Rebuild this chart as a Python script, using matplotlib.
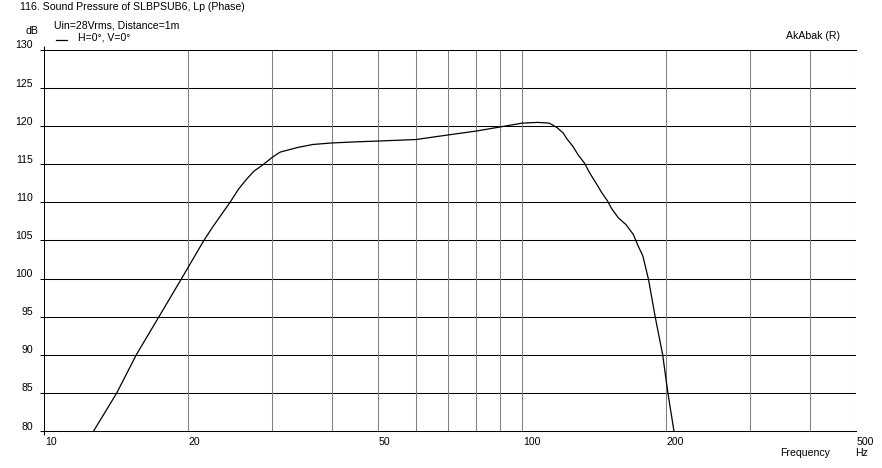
import matplotlib
matplotlib.use("Agg")
import matplotlib.pyplot as plt
from matplotlib.transforms import offset_copy
from matplotlib.lines import Line2D

# ---- data ----
freq_hz = [12.7, 14.2, 15.6, 17.4, 19.4, 21.6, 22.5, 23.5, 24.5, 25.5, 26.5, 27.5,
           28.8, 30.0, 31.2, 33.9, 36.5, 40.0, 45.0, 50.0, 60.0, 70.0, 80.0, 90.0,
           100.0, 108.0, 114.0, 116.0, 118.5, 122.0, 124.0, 128.0, 131.2, 135.0,
           138.8, 144.0, 146.8, 151.0, 154.0, 159.0, 165.0, 171.0, 175.0, 179.0,
           184.0, 190.0, 197.0, 202.0, 208.0]
spl_db = [80.0, 85.0, 90.0, 95.0, 100.0, 105.0, 106.7, 108.4, 110.0, 111.7, 113.0, 114.1,
          115.0, 115.9, 116.6, 117.2, 117.6, 117.8, 117.95, 118.05, 118.25, 118.85, 119.35, 119.9,
          120.4, 120.5, 120.4, 120.15, 119.8, 119.1, 118.4, 117.3, 116.2, 115.2,
          113.8, 112.2, 111.3, 110.2, 109.2, 108.0, 107.1, 105.8, 104.3, 103.0,
          99.9, 95.0, 90.0, 85.0, 80.0]

y_ticks = [80, 85, 90, 95, 100, 105, 110, 115, 120, 125, 130]
x_labels = [10, 20, 50, 100, 200, 500]
x_grid = [20, 30, 40, 50, 60, 70, 80, 90, 100, 200, 300, 400, 500]

title = "116. Sound Pressure of SLBPSUB6, Lp (Phase)"
subtitle = "Uin=28Vrms, Distance=1m"
legend_label = "H=0°, V=0°"
brand = "AkAbak (R)"

W, H = 882, 468
plt.rcParams['font.family'] = ['Liberation Sans', 'DejaVu Sans']
FS = 7.6

fig = plt.figure(figsize=(W / 100, H / 100), dpi=100)
fig.patch.set_facecolor('white')
x0, x1, y_top, y_bot = 44, 856, 50, 431
ax = fig.add_axes([x0 / W, 1 - y_bot / H, (x1 - x0) / W, (y_bot - y_top) / H])

ax.set_xscale('log')
ax.set_xlim(10, 500)
ax.set_ylim(80, 130)

# grid
for v in y_ticks[1:-1]:
    ax.axhline(v, color='black', lw=0.75, zorder=1)
for f in x_grid:
    ax.axvline(f, color='#808080', lw=0.75, zorder=1)

ax.plot(freq_hz, spl_db, color='black', lw=0.9, zorder=3, clip_on=True)

for side in ['left', 'bottom', 'top']:
    ax.spines[side].set_color('black')
    ax.spines[side].set_linewidth(0.75)
ax.spines['right'].set_visible(False)

ax.set_yticks(y_ticks, labels=[])
ax.set_xticks([10], labels=[])
ax.xaxis.set_minor_locator(matplotlib.ticker.NullLocator())
ax.yaxis.set_minor_locator(matplotlib.ticker.NullLocator())
ax.tick_params(axis='y', direction='out', length=3, width=0.75, color='black')
ax.tick_params(axis='x', which='major', direction='out', length=3, width=0.75,
               color='black', top=True)

# tick labels
ytr = offset_copy(ax.get_yaxis_transform(), fig=fig, x=-11, y=1.5, units='dots')
for v in y_ticks:
    ax.text(0, v, str(v), transform=ytr, ha='right', va='baseline', fontsize=FS)
xtr = offset_copy(ax.get_xaxis_transform(), fig=fig, x=1, y=-6, units='dots')
for f in x_labels:
    ax.text(f, 0, str(f), transform=xtr, ha='left', va='top', fontsize=FS)

def ftext(px, py, s, ha='left', va='top'):
    fig.text(px / W, 1 - py / H, s, ha=ha, va=va, fontsize=FS)

ftext(20, 2, title)
ftext(54, 20, subtitle)
ftext(25, 26, "dB")
ftext(78, 33, legend_label)
ftext(840, 31, brand, ha='right')
ftext(780, 448, "Frequency")
ftext(855, 448, "Hz")
fig.add_artist(Line2D([56 / W, 67 / W], [1 - 39.5 / H, 1 - 39.5 / H], color='black', lw=0.9))

fig.savefig("out.png", dpi=100)
